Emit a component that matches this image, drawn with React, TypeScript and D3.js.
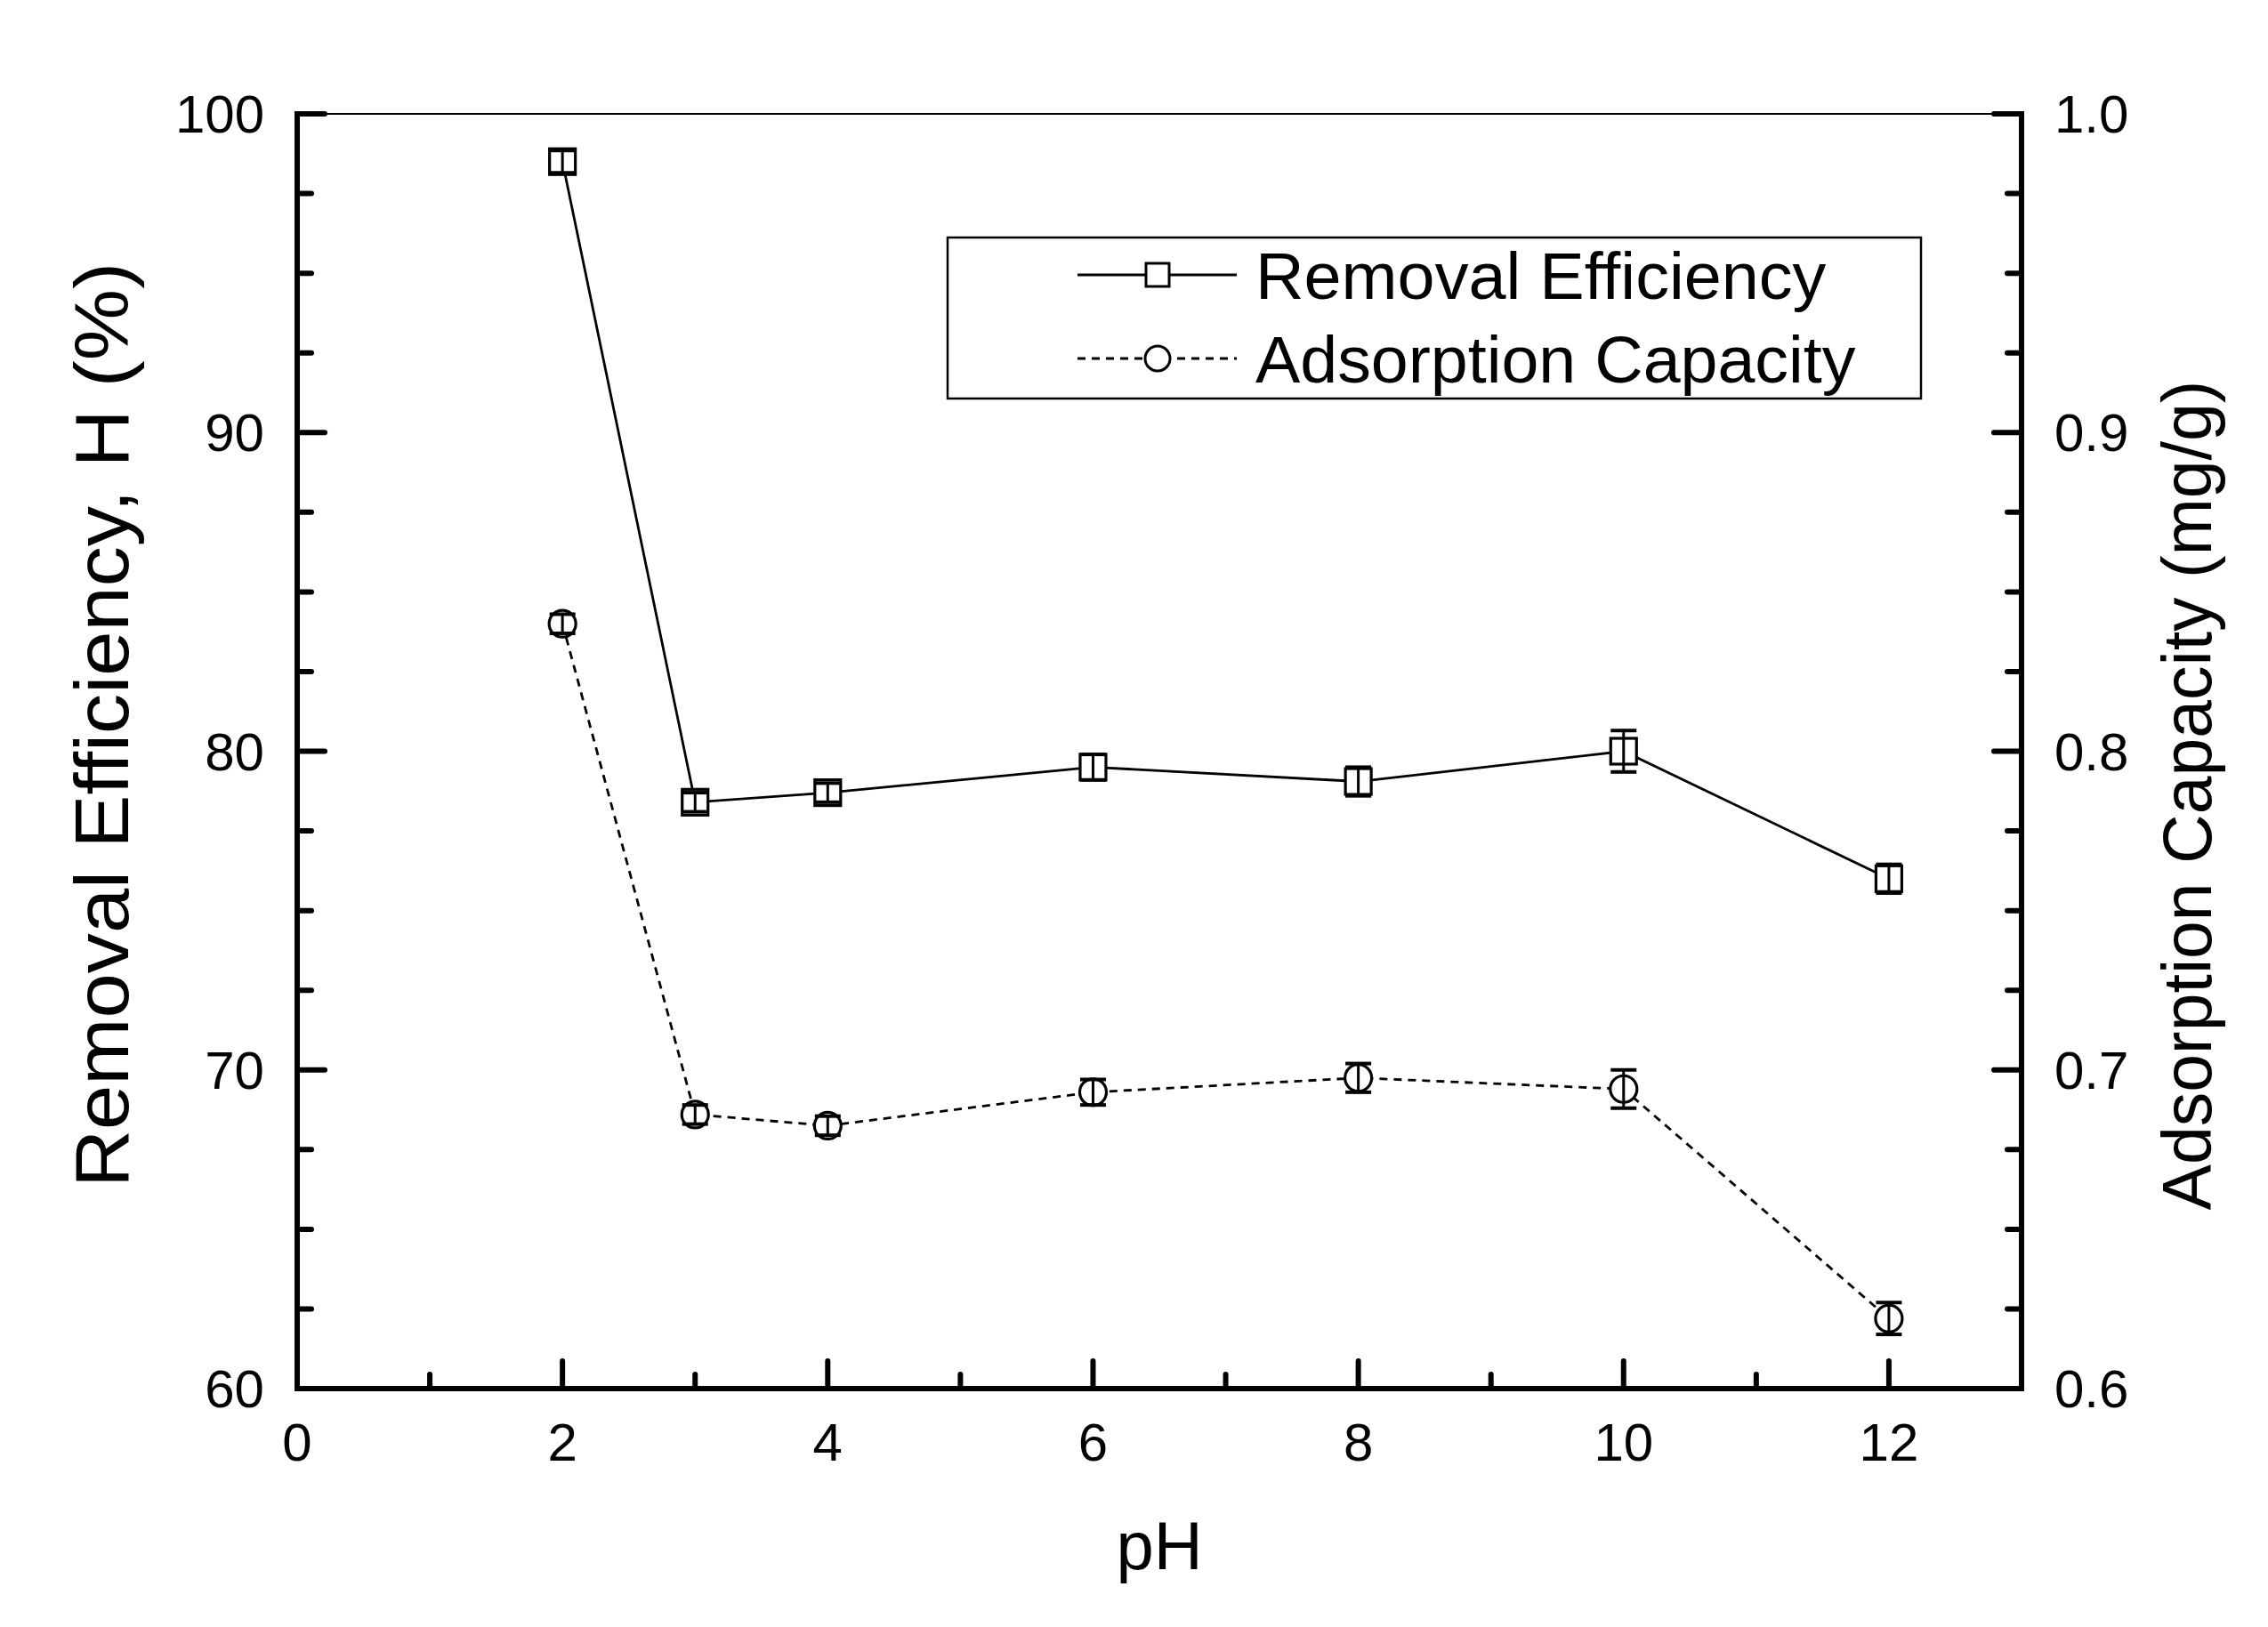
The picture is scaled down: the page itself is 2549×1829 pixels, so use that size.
import React from "react";
import * as d3 from "d3";

const phValues = [2, 3, 4, 6, 8, 10, 12];
const removalEfficiency = [98.5, 78.4, 78.7, 79.5, 79.05, 80.0, 76.0];
const removalError = [0.35, 0.3, 0.3, 0.4, 0.45, 0.65, 0.45];
const adsorptionCapacity = [0.84, 0.686, 0.6825, 0.693, 0.6975, 0.694, 0.622];
const adsorptionError = [0.003, 0.003, 0.003, 0.004, 0.0045, 0.006, 0.005];

const xMajorTicks = [0, 2, 4, 6, 8, 10, 12];
const xMinorTicks = [1, 3, 5, 7, 9, 11];
const leftMajorTicks = [60, 70, 80, 90, 100];
const leftMinorTicks = [62.5, 65, 67.5, 72.5, 75, 77.5, 82.5, 85, 87.5, 92.5, 95, 97.5];
const rightMajorTicks = [0.6, 0.7, 0.8, 0.9, 1.0];

const seriesNames = ["Removal Efficiency", "Adsorption Capacity"];
const xTitle = "pH";
const leftTitle = "Removal Efficiency, H (%)";
const rightTitle = "Adsorption Capacity (mg/g)";

const W = 2549;
const H = 1829;
const L = 334, R = 2272, T = 128, B = 1561;
const FONT = "'Liberation Sans', Arial, sans-serif";

export default function App() {
  const x = d3.scaleLinear().domain([0, 13]).range([L, R]);
  const yL = d3.scaleLinear().domain([60, 100]).range([B, T]);
  const yR = d3.scaleLinear().domain([0.6, 1.0]).range([B, T]);

  const reData = phValues.map((p, i) => ({ x: p, y: removalEfficiency[i], e: removalError[i] }));
  const acData = phValues.map((p, i) => ({ x: p, y: adsorptionCapacity[i], e: adsorptionError[i] }));

  const reLine = d3.line<any>().x((d) => x(d.x)).y((d) => yL(d.y));
  const acLine = d3.line<any>().x((d) => x(d.x)).y((d) => yR(d.y));

  const sq = 29;
  const cr = 15;
  const capW = 29;

  const errBar = (cx: number, y1: number, y2: number, key: string) => (
    <g key={key} stroke="#000">
      <line x1={cx} x2={cx} y1={y1} y2={y2} strokeWidth={3} />
      <line x1={cx - capW / 2} x2={cx + capW / 2} y1={y1} y2={y1} strokeWidth={4} />
      <line x1={cx - capW / 2} x2={cx + capW / 2} y1={y2} y2={y2} strokeWidth={4} />
    </g>
  );

  return (
    <svg width={W} height={H} style={{ position: "absolute", left: 0, top: 0, background: "#fff" }}>
      <rect x={0} y={0} width={W} height={H} fill="#fff" />
      {/* lines */}
      <path d={reLine(reData) || ""} fill="none" stroke="#000" strokeWidth={2.8} />
      <path d={acLine(acData) || ""} fill="none" stroke="#000" strokeWidth={2.8} strokeDasharray="9,7" />

      {/* markers */}
      {reData.map((d, i) => (
        <rect key={"rs" + i} x={x(d.x) - sq / 2} y={yL(d.y) - sq / 2} width={sq} height={sq} fill="#fff" stroke="#000" strokeWidth={3.2} />
      ))}
      {acData.map((d, i) => (
        <circle key={"ac" + i} cx={x(d.x)} cy={yR(d.y)} r={cr} fill="#fff" stroke="#000" strokeWidth={3.2} />
      ))}
      {reData.map((d, i) => errBar(x(d.x), yL(d.y + d.e), yL(d.y - d.e), "re" + i))}
      {acData.map((d, i) => errBar(x(d.x), yR(d.y + d.e), yR(d.y - d.e), "ae" + i))}

      {/* frame */}
      <line x1={L} x2={R} y1={T} y2={T} stroke="#000" strokeWidth={2} />
      <line x1={L} x2={R + 3} y1={B} y2={B} stroke="#000" strokeWidth={6} />
      <line x1={L} x2={L} y1={T - 3} y2={B + 3} stroke="#000" strokeWidth={6} />
      <line x1={R} x2={R} y1={T - 3} y2={B + 3} stroke="#000" strokeWidth={6} />

      {/* x ticks */}
      {xMajorTicks.map((t) => (
        <g key={"xm" + t}>
          <line x1={x(t)} x2={x(t)} y1={B} y2={B - 31} stroke="#000" strokeWidth={6} strokeLinecap="round" />
          <text x={x(t)} y={1642} textAnchor="middle" fontFamily={FONT} fontSize={60}>{t}</text>
        </g>
      ))}
      {xMinorTicks.map((t) => (
        <line key={"xn" + t} x1={x(t)} x2={x(t)} y1={B} y2={B - 16} stroke="#000" strokeWidth={6} strokeLinecap="round" />
      ))}

      {/* left ticks */}
      {leftMajorTicks.map((t) => (
        <g key={"lm" + t}>
          <line x1={L} x2={L + 31} y1={yL(t)} y2={yL(t)} stroke="#000" strokeWidth={6} strokeLinecap="round" />
          <text x={297} y={yL(t) + 21} textAnchor="end" fontFamily={FONT} fontSize={60}>{t}</text>
        </g>
      ))}
      {leftMinorTicks.map((t) => (
        <line key={"ln" + t} x1={L} x2={L + 16} y1={yL(t)} y2={yL(t)} stroke="#000" strokeWidth={6} strokeLinecap="round" />
      ))}

      {/* right ticks */}
      {rightMajorTicks.map((t) => (
        <g key={"rm" + t}>
          <line x1={R} x2={R - 31} y1={yR(t)} y2={yR(t)} stroke="#000" strokeWidth={6} strokeLinecap="round" />
          <text x={2309} y={yR(t) + 21} textAnchor="start" fontFamily={FONT} fontSize={60}>{t.toFixed(1)}</text>
        </g>
      ))}
      {leftMinorTicks.map((t) => (
        <line key={"rn" + t} x1={R} x2={R - 16} y1={yL(t)} y2={yL(t)} stroke="#000" strokeWidth={6} strokeLinecap="round" />
      ))}

      {/* axis titles */}
      <text x={(L + R) / 2} y={1764} textAnchor="middle" fontFamily={FONT} fontSize={76}>{xTitle}</text>
      <text transform={`translate(144, 815) rotate(-90) scale(1.05, 1)`} textAnchor="middle" fontFamily={FONT} fontSize={86}>{leftTitle}</text>
      <text transform={`translate(2485, 894) rotate(-90)`} textAnchor="middle" fontFamily={FONT} fontSize={77}>{rightTitle}</text>

      {/* legend */}
      <rect x={1065} y={267} width={1094} height={181} fill="#fff" stroke="#000" strokeWidth={2.5} />
      <line x1={1211} x2={1390} y1={309} y2={309} stroke="#000" strokeWidth={2.8} />
      <rect x={1301 - 13} y={309 - 13} width={26} height={26} fill="#fff" stroke="#000" strokeWidth={3} />
      <text x={1411} y={336} fontFamily={FONT} fontSize={75} transform="translate(1411,0) scale(1.008,1) translate(-1411,0)">{seriesNames[0]}</text>
      <line x1={1211} x2={1390} y1={403} y2={403} stroke="#000" strokeWidth={2.8} strokeDasharray="9,7" />
      <circle cx={1301} cy={403} r={14} fill="#fff" stroke="#000" strokeWidth={3} />
      <text x={1411} y={430} fontFamily={FONT} fontSize={75} transform="translate(1411,0) scale(1.005,1) translate(-1411,0)">{seriesNames[1]}</text>
    </svg>
  );
}
